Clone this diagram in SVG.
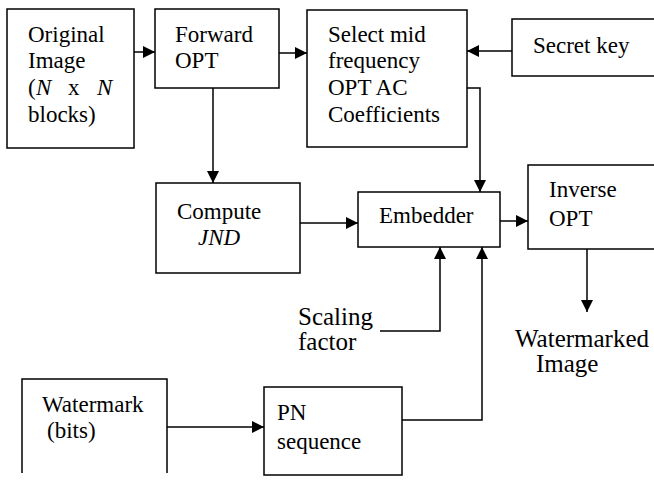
<svg xmlns="http://www.w3.org/2000/svg" width="654" height="483" viewBox="0 0 654 483" font-family="Liberation Serif, Tinos, Times New Roman, DejaVu Serif, serif">
<style>
.box{fill:#fff;stroke:#000;stroke-width:1.5}
.t{font-size:23px;fill:#000}
.tl{font-size:25px;fill:#000}
.c{fill:none;stroke:#000;stroke-width:1.5}
</style>
<defs>
<marker id="ah" markerUnits="userSpaceOnUse" markerWidth="12" markerHeight="12" refX="12" refY="6" orient="auto">
<path d="M0,0 L12,6 L0,12 z" fill="#000"/>
</marker>
</defs>
<rect width="654" height="483" fill="#fff"/>
<g id="connectors">
<path class="c" d="M134,52 H155" marker-end="url(#ah)"/>
<path class="c" d="M279,53 H307" marker-end="url(#ah)"/>
<path class="c" d="M512,51 H467" marker-end="url(#ah)"/>
<path class="c" d="M213,88 V183" marker-end="url(#ah)"/>
<path class="c" d="M300,223 H358" marker-end="url(#ah)"/>
<path class="c" d="M467,88 H480 V192" marker-end="url(#ah)"/>
<path class="c" d="M500,221 H528" marker-end="url(#ah)"/>
<path class="c" d="M587,249 V312" marker-end="url(#ah)"/>
<path class="c" d="M380,331 H440 V247" marker-end="url(#ah)"/>
<path class="c" d="M402,420 H482 V247" marker-end="url(#ah)"/>
<path class="c" d="M167,427 H264" marker-end="url(#ah)"/>
</g>
<g id="original">
<rect class="box" x="7" y="9" width="127" height="139"/>
<text class="t" x="28" y="42">Original</text>
<text class="t" x="28" y="68">Image</text>
<text class="t" y="95"><tspan x="28">(</tspan><tspan x="36" font-style="italic">N</tspan><tspan x="68">x</tspan><tspan x="97" font-style="italic">N</tspan></text>
<text class="t" x="28" y="122">blocks)</text>
</g>
<g id="forward">
<rect class="box" x="155" y="9" width="124" height="79"/>
<text class="t" x="175" y="42">Forward</text>
<text class="t" x="175" y="68">OPT</text>
</g>
<g id="select">
<rect class="box" x="307" y="10" width="160" height="137"/>
<text class="t" x="328" y="42">Select mid</text>
<text class="t" x="328" y="68">frequency</text>
<text class="t" x="328" y="95">OPT AC</text>
<text class="t" x="328" y="122">Coefficients</text>
</g>
<g id="secret">
<rect class="box" x="512" y="19" width="150" height="57"/>
<text class="t" x="533" y="53">Secret key</text>
</g>
<g id="compute">
<rect class="box" x="156" y="183" width="144" height="90"/>
<text class="t" x="177" y="219">Compute</text>
<text class="t" x="198" y="245" font-style="italic">JND</text>
</g>
<g id="embedder">
<rect class="box" x="358" y="192" width="142" height="55"/>
<text class="t" x="379" y="223">Embedder</text>
</g>
<g id="inverse">
<rect class="box" x="528" y="165" width="134" height="84"/>
<text class="t" x="549" y="197">Inverse</text>
<text class="t" x="549" y="226">OPT</text>
</g>
<g id="watermarked">
<text class="tl" x="515" y="347">Watermarked</text>
<text class="tl" x="536" y="372">Image</text>
</g>
<g id="scaling">
<text class="tl" x="298" y="325">Scaling</text>
<text class="tl" x="298" y="350">factor</text>
</g>
<g id="watermark">
<path class="c" d="M22,473 V379 H167 V473"/>
<text class="t" x="42" y="412">Watermark</text>
<text class="t" x="47" y="438">(bits)</text>
</g>
<g id="pn">
<rect class="box" x="264" y="387" width="138" height="88"/>
<text class="t" x="277" y="420">PN</text>
<text class="t" x="277" y="449">sequence</text>
</g>
</svg>
